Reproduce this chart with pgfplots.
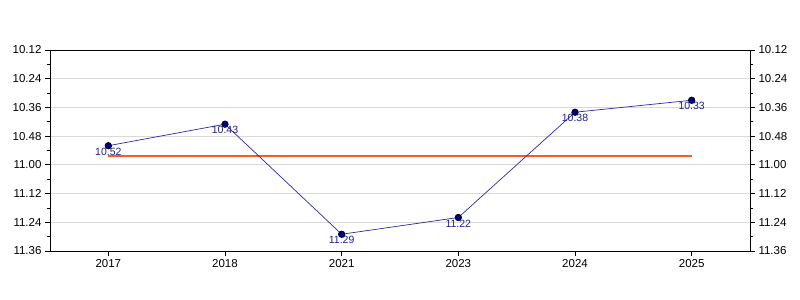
\documentclass[border=0pt]{standalone}
\usepackage{pgfplots}
\pgfplotsset{compat=1.18}
\usepackage{pgfplotstable}
\usepackage{fontspec}
\setmainfont{Liberation Sans}
\definecolor{navyc}{HTML}{000080}
\definecolor{linec}{HTML}{2A2AA8}
\definecolor{labc}{HTML}{1E1E96}
\definecolor{orangec}{HTML}{FF5A1E}
\definecolor{gridc}{HTML}{D9D9D9}
\pgfplotstableread{
x y lab
0 652 10.52
1 643 10.43
2 689 11.29
3 682 11.22
4 638 10.38
5 633 10.33
}\data
\pgfplotsset{
  common/.style={
    at={(50bp,49bp)}, anchor=south west, scale only axis,
    width=700bp, height=201bp,
    xmin=-0.5, xmax=5.5, ymin=612, ymax=696, y dir=reverse,
    ytick={612,624,...,696},
    yticklabels={10.12,10.24,10.36,10.48,11.00,11.12,11.24,11.36},
    minor y tick num=1,
    tick align=outside,
    major tick length=5bp, minor tick length=3bp,
    tick style={black, line width=0.8bp},
    axis line style={black, line width=1bp},
    tick label style={font=\fontsize{11.5bp}{13bp}\selectfont},
    /pgf/number format/assume math mode=true,
  }
}
\begin{document}
\begin{tikzpicture}
\path[use as bounding box] (0,0) rectangle (800bp,300bp);
\begin{axis}[common,
  xtick={0,...,5}, xticklabels={2017,2018,2021,2023,2024,2025},
  xtick pos=lower, ytick pos=left,
  ymajorgrids, grid style={color=gridc, line width=0.8bp},
  clip=false]
\addplot[color=orangec, line width=2bp] coordinates {(0,656.1667) (5,656.1667)};
\addplot[color=linec, line width=0.7bp, mark=*, mark size=3.3bp,
  mark options={fill=navyc, draw=black, line width=0.6bp},
  nodes near coords, point meta=explicit symbolic,
  every node near coord/.style={anchor=north, yshift=-1bp, inner sep=1bp,
    font=\fontsize{10.5bp}{12bp}\selectfont, text=labc}]
  table[x=x, y=y, meta=lab]{\data};
\end{axis}
\begin{axis}[common,
  hide x axis, axis x line=none,
  ytick pos=right, yticklabel pos=right]
\addplot[draw=none] coordinates {(0,652)};
\end{axis}
\end{tikzpicture}
\end{document}
